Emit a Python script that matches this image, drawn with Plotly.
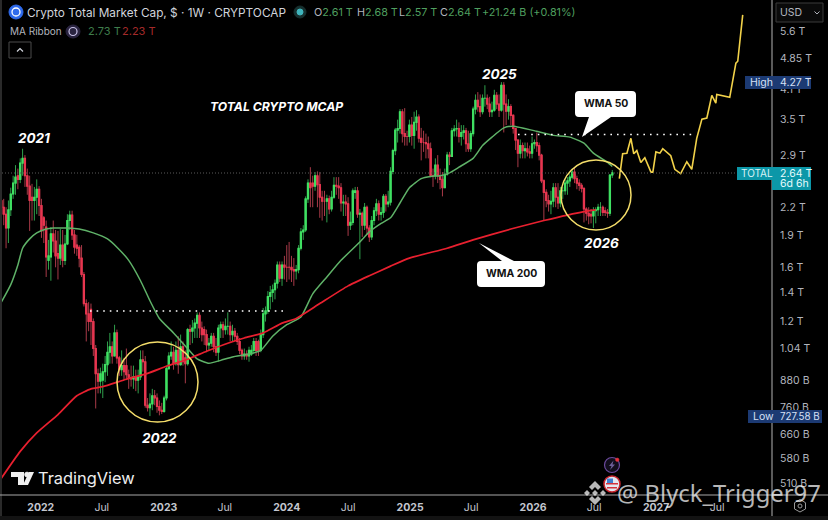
import pandas as pd
import plotly.graph_objects as go

# weekly candles, in trillions of USD
opens = [
    2.28,2.2,2.12,1.97,2.17,2.36,2.5,2.6,2.55,2.78,
    2.85,2.6,2.46,2.32,2.28,2.32,2.42,2.22,2.08,1.98,
    1.66,1.69,1.91,1.84,1.72,1.68,1.8,1.66,1.81,2.05,
    2.11,1.9,1.8,1.78,1.68,1.54,1.32,1.25,1.28,1.2,
    1.04,.91,.875,.88,.92,.955,1.02,1.05,1.0,1.13,
    .99,.93,.95,.95,.905,.89,.885,.895,.88,.895,
    .98,.97,.77,.76,.775,.81,.8,.765,.75,.745,
    .8,.935,1.0,1.02,.96,1.03,.955,1.05,.99,.96,
    1.15,1.14,1.16,1.19,1.24,1.16,1.15,1.12,1.06,1.07,
    1.11,1.05,1.02,1.16,1.18,1.15,1.17,1.17,1.12,1.14,
    1.11,1.08,1.03,1.0,1.01,1.0,1.01,1.03,1.08,1.08,
    1.03,1.12,1.25,1.27,1.37,1.4,1.42,1.47,1.62,1.51,
    1.62,1.6,1.6,1.6,1.58,1.57,1.58,1.77,1.93,1.95,
    2.3,2.5,2.5,2.46,2.6,2.48,2.32,2.27,2.27,2.3,
    2.18,2.32,2.47,2.46,2.44,2.25,2.26,2.24,2.0,2.03,
    2.38,2.4,2.12,2.13,2.0,2.2,1.97,1.88,2.05,2.16,
    2.24,2.12,2.14,2.33,2.24,2.26,2.66,2.97,3.31,3.34,
    3.65,3.25,3.2,3.2,3.4,3.22,3.45,3.55,3.17,3.1,
    3.1,3.08,3.0,2.6,2.6,2.75,2.6,2.55,2.44,2.62,
    2.9,2.88,3.3,3.33,3.34,3.2,3.27,3.3,3.08,3.0,
    3.25,3.7,3.88,3.75,3.65,3.92,3.92,3.8,3.65,3.68,
    3.98,3.8,3.68,4.2,3.8,3.66,3.75,3.58,3.34,3.14,
    2.93,3.05,2.97,3.0,2.95,2.93,3.08,3.1,3.05,2.9,
    2.53,2.38,2.28,2.24,2.27,2.44,2.32,2.25,2.4,2.4,
    2.5,2.53,2.58,2.65,2.56,2.5,2.47,2.43,2.18,2.13,
    2.12,2.1,2.16,2.17,2.2,2.2,2.16,2.14,2.13,2.61,
]
closes = [
    2.2,2.12,1.97,2.17,2.36,2.5,2.58,2.55,2.78,2.85,
    2.6,2.46,2.28,2.28,2.32,2.42,2.22,1.94,2.0,1.69,
    1.7,1.91,1.84,1.7,1.68,1.8,1.66,1.81,2.05,2.11,
    1.9,1.78,1.77,1.68,1.54,1.32,1.25,1.2,1.2,1.04,
    .91,.875,.91,.92,.955,1.02,1.05,1.0,1.13,.99,
    .93,.95,.92,.905,.89,.885,.895,.88,.895,.98,
    .97,.77,.76,.775,.81,.8,.765,.75,.745,.8,
    .935,1.0,1.02,.96,1.03,.955,1.05,.97,.96,1.15,
    1.14,1.16,1.19,1.24,1.16,1.12,1.12,1.06,1.07,1.11,
    1.05,1.02,1.16,1.18,1.15,1.17,1.17,1.12,1.14,1.11,
    1.08,1.03,1.0,1.01,1.0,1.03,1.03,1.08,1.03,1.03,
    1.12,1.25,1.27,1.37,1.4,1.42,1.47,1.62,1.51,1.62,
    1.6,1.6,1.6,1.58,1.57,1.58,1.77,1.93,1.95,2.3,
    2.5,2.44,2.46,2.6,2.48,2.32,2.27,2.27,2.3,2.18,
    2.32,2.47,2.46,2.44,2.25,2.26,2.24,2.0,2.03,2.4,
    2.4,2.12,2.13,2.0,2.2,1.97,1.88,2.05,2.16,2.24,
    2.12,2.14,2.33,2.24,2.26,2.66,2.97,3.31,3.34,3.65,
    3.25,3.2,3.2,3.4,3.22,3.45,3.55,3.17,3.1,3.1,
    3.08,3.0,2.6,2.6,2.75,2.6,2.55,2.44,2.62,2.9,
    2.88,3.3,3.33,3.34,3.2,3.27,3.3,3.08,3.0,3.25,
    3.7,3.88,3.75,3.65,3.92,3.92,3.8,3.65,3.68,3.98,
    3.8,3.68,4.2,3.8,3.66,3.75,3.58,3.34,3.14,2.93,
    3.05,2.97,3.0,2.95,2.93,3.08,3.1,3.05,2.9,2.53,
    2.38,2.28,2.24,2.27,2.44,2.32,2.25,2.4,2.4,2.5,
    2.53,2.58,2.65,2.56,2.5,2.47,2.43,2.18,2.13,2.1,
    2.1,2.16,2.17,2.2,2.2,2.14,2.14,2.13,2.61,2.64,
]
highs = [
    2.36,2.3,2.2,2.28,2.44,2.6,2.75,2.7,2.85,3.0,
    2.9,2.7,2.6,2.49,2.45,2.55,2.46,2.3,2.1,2.05,
    1.85,1.98,2.05,1.95,1.94,1.96,1.95,1.9,2.12,2.16,
    2.16,1.95,1.9,1.8,1.8,1.56,1.35,1.33,1.32,1.22,
    1.06,.935,.94,.96,1.0,1.08,1.13,1.08,1.18,1.15,
    1.0,1.03,.99,1.04,.93,.95,.95,.93,.93,1.03,
    1.03,1.0,.8,.82,.84,.835,.82,.79,.78,.81,
    .95,1.02,1.08,1.05,1.08,1.11,1.12,1.08,1.03,1.16,
    1.18,1.21,1.22,1.26,1.26,1.2,1.17,1.15,1.1,1.13,
    1.13,1.1,1.18,1.2,1.2,1.22,1.26,1.2,1.18,1.16,
    1.13,1.1,1.04,1.04,1.03,1.05,1.06,1.1,1.1,1.09,
    1.15,1.29,1.3,1.41,1.45,1.46,1.5,1.65,1.65,1.65,
    1.7,1.8,1.83,1.7,1.68,1.62,1.8,1.97,2.0,2.33,
    2.55,2.72,2.6,2.65,2.66,2.65,2.4,2.4,2.35,2.34,
    2.4,2.58,2.58,2.58,2.5,2.35,2.35,2.32,2.15,2.43,
    2.45,2.45,2.18,2.15,2.25,2.22,2.0,2.1,2.2,2.3,
    2.28,2.2,2.36,2.36,2.4,2.72,3.0,3.35,3.5,3.7,
    3.7,3.72,3.3,3.5,3.55,3.65,3.68,3.6,3.35,3.3,
    3.25,3.2,3.1,2.7,2.85,2.9,2.7,2.65,2.7,2.95,
    2.95,3.35,3.4,3.5,3.45,3.4,3.4,3.35,3.3,3.3,
    3.75,4.0,4.05,4.0,4.0,4.2,4.0,3.95,3.85,4.1,
    4.05,4.0,4.27,4.27,4.0,3.9,3.8,3.6,3.35,3.15,
    3.15,3.1,3.1,3.1,3.05,3.2,3.15,3.27,3.1,2.92,
    2.55,2.42,2.35,2.4,2.5,2.5,2.5,2.45,2.45,2.55,
    2.58,2.62,2.7,2.72,2.6,2.55,2.5,2.45,2.2,2.2,
    2.18,2.2,2.2,2.24,2.26,2.22,2.2,2.18,2.62,2.68,
]
lows = [
    2.1,2.0,1.77,1.82,2.1,2.3,2.35,2.42,2.5,2.6,
    2.45,2.35,1.94,2.05,2.05,2.12,2.1,1.87,1.82,1.52,
    1.58,1.49,1.73,1.6,1.5,1.62,1.6,1.62,1.8,1.95,
    1.85,1.72,1.7,1.6,1.52,1.3,1.08,1.14,1.06,1.0,
    .757,.82,.82,.8,.87,.9,.96,.96,1.0,.96,
    .9,.9,.88,.88,.84,.85,.84,.83,.82,.88,
    .92,.76,.745,.727,.75,.77,.74,.73,.735,.74,
    .79,.93,.98,.93,.95,.91,.95,.95,.865,.95,
    1.06,1.07,1.1,1.1,1.1,1.08,1.06,1.02,1.03,1.05,
    1.02,1.0,.97,1.1,1.1,1.12,1.12,1.08,1.08,1.08,
    1.06,1.01,.98,.98,.98,.97,1.0,1.01,1.0,1.0,
    1.02,1.1,1.2,1.25,1.28,1.33,1.35,1.43,1.48,1.45,
    1.5,1.48,1.5,1.48,1.45,1.5,1.55,1.75,1.85,1.93,
    2.25,2.2,2.2,2.4,2.2,2.08,2.05,2.1,2.03,2.12,
    2.15,2.3,2.35,2.3,2.15,2.1,2.1,1.89,1.95,2.0,
    2.3,2.08,1.67,1.88,1.95,1.9,1.83,1.85,2.0,2.1,
    2.05,2.05,2.08,2.15,2.2,2.22,2.62,2.9,3.1,3.25,
    3.1,3.05,3.05,3.1,3.05,3.0,3.3,3.1,2.82,2.95,
    2.85,2.85,2.58,2.45,2.55,2.5,2.42,2.33,2.45,2.6,
    2.75,2.88,3.2,3.2,3.1,3.05,3.15,2.95,2.95,2.95,
    3.2,3.6,3.65,3.55,3.6,3.75,3.7,3.55,3.55,3.65,
    3.7,3.55,3.65,3.27,3.4,3.5,3.4,3.25,2.98,2.72,
    2.85,2.85,2.85,2.88,2.85,2.85,3.0,2.95,2.82,2.5,
    2.05,2.2,2.15,2.12,2.2,2.2,2.18,2.2,2.3,2.35,
    2.35,2.45,2.55,2.5,2.42,2.4,2.38,2.03,2.05,2.01,
    2.02,1.97,2.02,2.1,2.1,2.1,2.1,2.08,2.1,2.57,
]

# moving averages and the drawn projection: week number since the first candle, value
wma50_week = [0,4,7,9,12,15,19,22,28,33,39,45,49,54,59,63,67,73,79,83,88,93,98,105,110,115,121,127,132,138,144,152,156,161,165,169,173,178,182,186,190,194,200,204,208,213,217,227,234,241,247,251,257,259]
wma50_val = [1.33,1.46,1.62,1.77,1.86,1.92,1.96,1.97,1.97,1.96,1.92,1.86,1.78,1.66,1.49,1.34,1.22,1.13,1.04,.985,.962,.977,.995,1.01,1.03,1.11,1.18,1.23,1.39,1.52,1.66,1.83,1.93,2.02,2.08,2.25,2.44,2.56,2.59,2.6,2.64,2.72,2.85,3.05,3.19,3.35,3.38,3.29,3.22,3.19,3.09,2.93,2.79,2.73]
wma200_week = [0,8,15,24,32,38,43,53,62,70,79,87,96,103,111,119,125,135,147,156,165,173,189,200,216,230,247,252]
wma200_val = [.523,.603,.665,.733,.81,.84,.85,.884,.912,.947,.983,1.025,1.07,1.10,1.13,1.19,1.22,1.32,1.45,1.53,1.61,1.68,1.77,1.85,1.96,2.05,2.15,2.17]
path_week = [262,263.4,265.2,266.9,268.1,269.4,271.1,272.8,275.4,276.2,277.5,279.2,280.4,283.8,285.5,288,290.6,292.7,294.8,297,299.1,301.2,302.9,303.3,308.8,311.4,312.2,314.3]
path_val = [2.56,2.92,2.93,3.17,2.92,2.97,2.79,2.86,2.65,2.65,2.95,2.93,3.0,2.89,2.69,2.63,2.8,2.69,3.17,3.51,3.53,3.98,3.82,4.0,3.94,4.72,4.77,6.1]

price_ticks = [5.6,4.85,4.1,3.5,2.9,2.2,1.9,1.6,1.4,1.2,1.04,.88,.76,.66,.58,.51]
price_labels = ["5.6 T","4.85 T","4.1 T","3.5 T","2.9 T","2.2 T","1.9 T","1.6 T","1.4 T","1.2 T","1.04 T","880 B","760 B","660 B","580 B","510 B"]
date_ticks = ["2022-01-01","2022-07-01","2023-01-01","2023-07-01","2024-01-01","2024-07-01","2025-01-01","2025-07-01","2026-01-01","2026-07-01","2027-01-01","2027-07-01"]
date_labels = ["<b>2022</b>","Jul","<b>2023</b>","Jul","<b>2024</b>","Jul","<b>2025</b>","Jul","<b>2026</b>","Jul","<b>2027</b>","Jul"]

first_week = pd.Timestamp("2021-09-06")
weeks = pd.date_range(first_week, periods=len(closes), freq="7D")

def week_dates(nums):
    return [first_week + pd.Timedelta(days=n * 7) for n in nums]

W, H = 828, 520
PW, PH = 772, 495  # plot area in pixels
FONT = "Inter"
UP, DOWN = "#3fe062", "#e8354f"
UP_WICK, DOWN_WICK = "#2f9f4b", "#a83a48"

def px(x):
    return x / PW

def py(y):
    return 1 - y / PH

def note(x, y, text, size=11, color="#d1d4dc", anchor="left", **kw):
    return dict(xref="paper", yref="paper", x=px(x), y=py(y), text=text, showarrow=False,
                xanchor=anchor, yanchor="middle", borderpad=0,
                font=dict(family=kw.pop("family", FONT), size=size, color=color), **kw)

def box(x0, y0, x1, y1, fill, line=None, width=1):
    return dict(type="rect", xref="paper", yref="paper", x0=px(x0), y0=py(y0), x1=px(x1), y1=py(y1),
                fillcolor=fill, line=dict(color=line or fill, width=width if line else 0))

def ring(x0, y0, x1, y1, color, width=1.5, fill="rgba(0,0,0,0)"):
    return dict(type="circle", xref="paper", yref="paper", x0=px(x0), y0=py(y0), x1=px(x1), y1=py(y1),
                fillcolor=fill, line=dict(color=color, width=width))

def hline(x0, x1, y, color, width=1, dash="solid"):
    return dict(type="line", xref="paper", yref="paper", x0=px(x0), x1=px(x1), y0=py(y), y1=py(y),
                line=dict(color=color, width=width, dash=dash))

def poly(points, fill="white", line=None, width=0):
    d = "M " + " L ".join(f"{px(a):.5f},{py(b):.5f}" for a, b in points) + " Z"
    return dict(type="path", xref="paper", yref="paper", path=d, fillcolor=fill,
                line=dict(color=line or fill, width=width))

def stroke(points, color, width=1):
    d = "M " + " L ".join(f"{px(a):.5f},{py(b):.5f}" for a, b in points)
    return dict(type="path", xref="paper", yref="paper", path=d, fillcolor="rgba(0,0,0,0)",
                line=dict(color=color, width=width))

def bubble(x0, y0, x1, y1, tail, r=4):
    # rounded white callout with a pointer going to the tail tip
    (tx, ty), (b0, b1) = tail
    P = lambda a, b: f"{px(a):.5f},{py(b):.5f}"
    if ty > y1:
        d = (f"M {P(x0+r,y0)} L {P(x1-r,y0)} Q {P(x1,y0)} {P(x1,y0+r)} L {P(x1,y1-r)} Q {P(x1,y1)} {P(x1-r,y1)} "
             f"L {P(b1,y1)} L {P(tx,ty)} L {P(b0,y1)} L {P(x0+r,y1)} Q {P(x0,y1)} {P(x0,y1-r)} "
             f"L {P(x0,y0+r)} Q {P(x0,y0)} {P(x0+r,y0)} Z")
    else:
        d = (f"M {P(x0+r,y0)} L {P(b0,y0)} L {P(tx,ty)} L {P(b1,y0)} L {P(x1-r,y0)} Q {P(x1,y0)} {P(x1,y0+r)} "
             f"L {P(x1,y1-r)} Q {P(x1,y1)} {P(x1-r,y1)} L {P(x0+r,y1)} Q {P(x0,y1)} {P(x0,y1-r)} "
             f"L {P(x0,y0+r)} Q {P(x0,y0)} {P(x0+r,y0)} Z")
    return dict(type="path", xref="paper", yref="paper", path=d, fillcolor="white", line=dict(color="white", width=0))

fig = go.Figure()
# thin dim wicks first, then the bodies on their own so they can be thicker
fig.add_trace(go.Candlestick(
    x=weeks, open=opens, high=highs, low=lows, close=closes,
    increasing=dict(line=dict(color=UP_WICK, width=1), fillcolor=UP_WICK),
    decreasing=dict(line=dict(color=DOWN_WICK, width=1), fillcolor=DOWN_WICK),
    whiskerwidth=0,
))
fig.add_trace(go.Candlestick(
    x=weeks, open=opens, close=closes,
    high=[max(a, b) for a, b in zip(opens, closes)],
    low=[min(a, b) for a, b in zip(opens, closes)],
    increasing=dict(line=dict(color=UP, width=1.1), fillcolor=UP),
    decreasing=dict(line=dict(color=DOWN, width=1.1), fillcolor=DOWN),
    whiskerwidth=0,
))
fig.add_trace(go.Scatter(x=week_dates(wma50_week), y=wma50_val, mode="lines", line=dict(color="#5fb268", width=1.5, shape="spline", smoothing=0.5)))
fig.add_trace(go.Scatter(x=week_dates(wma200_week), y=wma200_val, mode="lines", line=dict(color="#e8202f", width=1.7, shape="spline", smoothing=0.5)))
fig.add_trace(go.Scatter(x=week_dates(path_week), y=path_val, mode="lines", line=dict(color="#f2d24a", width=1.6)))

wm = "rgba(255,255,255,0.72)"
shapes = [
    box(0, 516, 828, 520, "#131313"),
    box(0, 0, 2, 516, "#2a2a2a"),
    hline(2, PW, 173, "#5a5a5a", 1, "1px,2px"),
    hline(90, 285, 311, "#ffffff", 1.6, "1.6px,5px"),
    hline(518, 694, 134.5, "#ffffff", 1.6, "1.6px,5px"),
    ring(117, 342, 198, 422, "#f4dd6a"),
    ring(561, 160, 631, 230, "#f4dd6a"),
    bubble(575, 91, 636, 117, ((582, 137), (589, 611))),
    bubble(477, 261, 545, 287, ((479, 243), (502, 514))),
    # axis frame
    dict(type="line", xref="paper", yref="paper", x0=px(PW), x1=px(PW), y0=py(0), y1=py(516), line=dict(color="#b4b4b4", width=1)),
    hline(0, W, PH, "#a8a8a8", 1.2),
    # price tags
    box(745, 76, 811, 89, "#1c3a73"),
    box(737, 167, 772, 180, "#0c97a8"),
    box(772, 167, 811, 190, "#0c97a8"),
    box(748, 410, 822, 423, "#1c3a73"),
    # USD button
    dict(type="rect", xref="paper", yref="paper", x0=px(776), x1=px(823), y0=py(3), y1=py(22),
         fillcolor="#0a0a0a", line=dict(color="#3a3a3a", width=1)),
    stroke([(814.5, 11.5), (817, 14), (819.5, 11.5)], "#b2b5be", 1),
    # collapse button
    dict(type="rect", xref="paper", yref="paper", x0=px(9), x1=px(31), y0=py(42), y1=py(58),
         fillcolor="#000000", line=dict(color="#4a4a4a", width=1)),
    stroke([(17, 51.5), (20, 48.5), (23, 51.5)], "#d1d4dc", 1.2),
    # header icons
    ring(9, 5, 23, 19, "#2f6bec", 1, "#2f6bec"),
    ring(12, 8, 20, 16, "#ffffff", 1.3, "#2f6bec"),
    ring(294, 6, 306, 18, "#17302f", 1, "#17302f"),
    ring(297, 9, 303, 15, "#3fb5bd", 1, "#3fb5bd"),
    ring(66, 25, 80, 38, "#2a2440", 1, "#2a2440"),
    ring(69, 27.5, 77, 35.5, "#c9c2e8", 1.2),
    # TradingView mark
    poly([(11, 472), (24, 472), (24, 485), (18, 485), (18, 477), (11, 477)], "#f0f0f0"),
    ring(24.5, 472, 29.5, 477, "#f0f0f0", 0.5, "#f0f0f0"),
    poly([(29, 472), (34, 472), (28, 485), (23, 485)], "#f0f0f0"),
    # event markers
    ring(604.5, 457.5, 619.5, 472.5, "#6a4a9c", 1.2, "#120e1c"),
    poly([(613.5, 460.5), (609, 466), (611.5, 466), (610, 470), (615, 464.5), (612.5, 464.5)], "#6d5f98"),
    ring(615.5, 458, 619, 461.5, "#e8313c", 0.5, "#e8313c"),
    ring(604, 476, 620, 492, "#c8242c", 1.5, "#e4e8f0"),
    box(606, 483, 618, 484.5, "#d4323c"),
    box(607, 487, 617, 488.5, "#d4323c"),
    box(607, 478.5, 613, 483, "#3f7fd0"),
    # Binance-style mark under the watermark
    poly([(595, 481), (601, 487), (598, 490), (595, 487), (592, 490), (589, 487)], wm),
    poly([(595, 505), (601, 499), (598, 496), (595, 499), (592, 496), (589, 499)], wm),
    poly([(595, 490), (598, 493), (595, 496), (592, 493)], wm),
    poly([(603, 490), (606, 493), (603, 496), (600, 493)], wm),
    poly([(587, 490), (590, 493), (587, 496), (584, 493)], wm),
    # gear
    poly([(800, 499.5), (805.5, 502.7), (805.5, 509), (800, 512), (794.5, 509), (794.5, 502.7)], "rgba(0,0,0,0)", "#9a9a9a", 1),
    ring(798, 504, 802, 508, "#9a9a9a", 1),
]

G, R = "#4f9f5f", "#b5302f"
gs = f"<span style='color:{G}'>"
annotations = [
    note(26, 12.5, "Crypto Total Market Cap, $ · 1W · CRYPTOCAP", 11.8),
    note(313, 12.5, f"O{gs}2.61 T</span>", 10.8, "#b2b5be"),
    note(356, 12.5, f"H{gs}2.68 T</span>", 10.8, "#b2b5be"),
    note(398, 12.5, f"L{gs}2.57 T</span>", 10.8, "#b2b5be"),
    note(439, 12.5, f"C{gs}2.64 T</span>", 10.8, "#b2b5be"),
    note(481, 12.5, f"{gs}+21.24 B (+0.81%)</span>", 10.8, "#b2b5be"),
    note(9, 31, "MA Ribbon", 10, "#b2b5be"),
    note(87, 31, "2.73 T", 11, "#3f7d4c"),
    note(121, 31, "2.23 T", 11, "#a52a2a"),
    note(276.5, 106, "<b><i>TOTAL CRYPTO MCAP</i></b>", 12.2, "#ffffff", "center"),
    note(34, 138, "<b><i>2021</i></b>", 13.5, "#ffffff", "center"),
    note(159, 438, "<b><i>2022</i></b>", 13.5, "#ffffff", "center"),
    note(499, 74, "<b><i>2025</i></b>", 13.5, "#ffffff", "center"),
    note(601, 243, "<b><i>2026</i></b>", 13.5, "#ffffff", "center"),
    note(605.5, 103.5, "<b>WMA 50</b>", 10.4, "#111111", "center"),
    note(511, 273.5, "<b>WMA 200</b>", 10.4, "#111111", "center"),
    note(86.5, 478, "TradingView", 16.4, "#eeeeee", "center"),
    note(779, 82.5, "4.27 T", 10.5, "#d6e0f5"),
    note(749, 82.5, "High", 10.5, "#d6e0f5"),
    note(740, 173, "TOTAL", 10, "#d8f3f6"),
    note(779, 173, "2.64 T", 10.5, "#e8fbfd"),
    note(779, 184, "6d 6h", 10.5, "#e8fbfd"),
    note(752, 416.5, "Low", 10.5, "#d6e0f5"),
    note(779, 416.5, "727.58 B", 9.8, "#d6e0f5"),
    note(779, 12.5, "USD", 10.5, "#b2b5be"),
    note(616, 493, "@ Blyck_Trigger97", 23.8, wm, family="Noto Sans"),
]

fig.update_layout(
    width=W, height=H, autosize=False, showlegend=False, hovermode=False,
    paper_bgcolor="#000000", plot_bgcolor="#000000",
    margin=dict(l=0, r=W - PW, t=0, b=H - PH, pad=0, autoexpand=False),
    font=dict(family=FONT, color="#b2b5be", size=10.5),
    shapes=shapes, annotations=annotations,
    xaxis=dict(
        type="date", range=["2021-09-02", "2027-12-11"], rangeslider=dict(visible=False),
        tickmode="array", tickvals=date_ticks, ticktext=date_labels,
        showgrid=False, zeroline=False, showline=False,
        ticks="outside", ticklen=2, tickcolor="rgba(0,0,0,0)", tickfont=dict(size=10.5, color="#c4c7cf"),
    ),
    yaxis=dict(
        type="log", side="right", range=[-0.3201, 0.8195],
        tickmode="array", tickvals=price_ticks, ticktext=price_labels,
        showgrid=False, zeroline=False, showline=False,
        ticks="outside", ticklen=5, tickcolor="rgba(0,0,0,0)", tickfont=dict(size=10.5, color="#b2b5be"),
    ),
)

fig.write_html("out.html", config=dict(displayModeBar=False), post_script="document.body.style.margin='0';")
